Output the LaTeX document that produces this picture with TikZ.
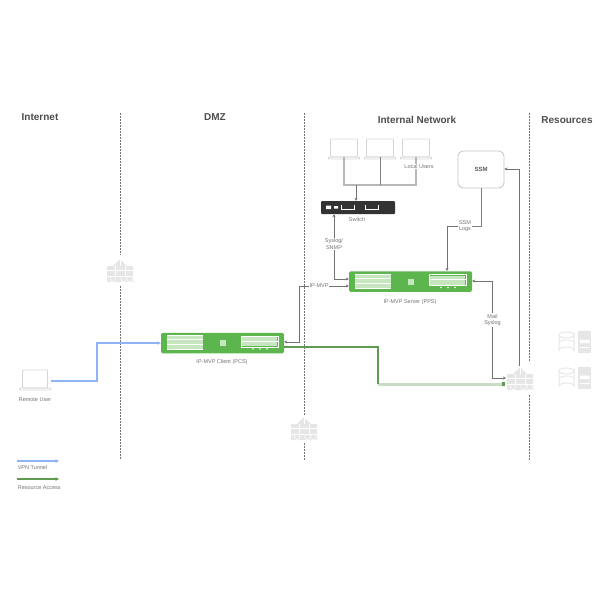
\documentclass[tikz,border=0pt]{standalone}
\usepackage{fontspec}
\setmainfont{Liberation Sans}
\usetikzlibrary{arrows.meta}
\definecolor{devgreen}{HTML}{5DB54E}
\definecolor{stripe}{HTML}{C6E6BF}
\definecolor{vpnblue}{HTML}{8FB4F5}
\definecolor{resgreen}{HTML}{5E9A50}
\definecolor{respale}{HTML}{C9DCC4}
\definecolor{iconline}{HTML}{E6E6E6}
\tikzset{
  x=1pt,y=-1pt,
  zone/.style={font=\bfseries\fontsize{10}{11}\selectfont,text=black!70,inner sep=0pt},
  tiny label/.style={font=\fontsize{5.5}{6.6}\selectfont,text=black!55,align=center,inner sep=0.6pt,fill=white},
  border/.style={draw=black!55,line width=0.8pt,dash pattern=on 2pt off 1pt},
  link/.style={draw=black!55,line width=0.8pt,-{Stealth[length=3pt,width=3pt]}},
  plain/.style={draw=black!50,line width=0.8pt},
  fat/.style={draw=black!28,line width=1.4pt},
  vpn/.style={draw=vpnblue,line width=1.1pt,-{Stealth[length=3.5pt,width=3.5pt]}},
  res/.style={draw=resgreen,line width=1.1pt,-{Stealth[length=3.5pt,width=3.5pt]}},
  device/.style={fill=devgreen,rounded corners=1.5pt,minimum width=123pt,minimum height=20.5pt,inner sep=0pt},
  screen/.style={draw=black!16,line width=0.9pt,fill=white,rounded corners=0.6pt,minimum width=27pt,minimum height=18pt,inner sep=0pt},
  pics/panel/.style={code={
    \fill[stripe] (6,-7.5) rectangle (42,7);
    \draw[white,line width=0.8pt] (6,-3.5) -- (42,-3.5) (6,1.5) -- (42,1.5) (6,6.5)--(42,6.5) (6,-7.5)--(42,-7.5);
    \fill[stripe] (58.5,-3) rectangle (64.5,3);
    \draw[white,line width=0.8pt] (80,-7) rectangle (117,4);
    \fill[stripe] (81,-6) rectangle (116,3);
    \draw[white,line width=0.8pt] (80,-2) -- (117,-2);
    \foreach \d in {92,99,106}{\fill[white] (\d,6) circle (0.8);}
  }},
  pics/group/.style={code={
    \fill[iconline] (0,-12) -- (7,-5) -- (13,-5) -- (13,11) -- (-13,11) -- (-13,-5) -- (-7,-5) -- cycle;
    \draw[white,line width=0.6pt] (-13,-1) -- (13,-1) (-13,5) -- (13,5) (-5,-5) -- (-5,5) (5,-5) -- (5,5) (0,-12) -- (0,-5);
    \foreach \p in {3.5,9.5}{\draw[white,fill=iconline,line width=0.5pt] (\p,8) circle (2.8);}
    \draw[white,fill=iconline,line width=0.5pt] (-7,8) circle (2.8);
  }},
  pics/store/.style={code={
    \draw[iconline,line width=1pt] (0,4) -- (0,19) arc[start angle=180,end angle=360,x radius=7.5,y radius=3] -- (15,4) arc[start angle=0,end angle=180,x radius=7.5,y radius=3] arc[start angle=180,end angle=360,x radius=7.5,y radius=3];
    \draw[iconline,line width=0.8pt] (0,12) arc[start angle=180,end angle=360,x radius=7.5,y radius=3];
    \fill[iconline] (19,0) rectangle (32,22);
    \fill[white] (20.5,8.5) rectangle (30.5,12) (20.5,16) rectangle (30.5,17);
  }},
  pics/base/.style={code={
    \draw[black!16,line width=0.9pt,rounded corners=0.5pt] (-15.5,0) rectangle (15.5,2);
  }},
}
\begin{document}
\begin{tikzpicture}
\useasboundingbox (0,0) rectangle (600,600);
% zone headings
\node[zone] (zInternet) at (40,117) {Internet};
\node[zone] (zDMZ) at (215,117) {DMZ};
\node[zone] (zInternal) at (417,120) {Internal Network};
\node[zone] (zResources) at (567,120) {Resources};
% zone borders
\draw[border] (120.5,113) -- (120.5,255) (120.5,286) -- (120.5,460);
\draw[border] (304,113) -- (304,415) (304,443) -- (304,460);
\draw[border] (529,113) -- (529,362) (529,395) -- (529,460);
% group icons
\pic at (120,271) {group};
\pic at (304,429) {group};
\pic (gateIcon) at (520,379) {group};
\coordinate (gateTop) at (519,366);
\coordinate (gateMail) at (506,378);
\coordinate (gateRes) at (505,384);
% storage
\pic at (559,331) {store};
\pic at (559,367) {store};
% laptops
\node[screen] (lap1) at (344,148) {};
\node[screen] (lap2) at (380,148) {};
\node[screen] (lap3) at (416,148) {};
\node[screen,minimum width=25pt,minimum height=18pt] (lapR) at (35,379) {};
\pic at (344,157) {base};
\pic at (380,157) {base};
\pic at (416,157) {base};
\pic at (35,388) {base};
\node[tiny label,fill=none] (lblRemote) at (35,399.5) {Remote User};
% switch
\node[fill=black!80,rounded corners=1pt,minimum width=74pt,minimum height=13pt,inner sep=0pt] (switch) at (358,207.5) {};
\fill[white] (326,205.5) rectangle (331,209) (334,206) rectangle (338,208.5);
\draw[white,line width=0.7pt] (341,205) -- (341,209.5) -- (354,209.5) -- (354,205);
\draw[white,line width=0.7pt] (365,205) -- (365,209.5) -- (378,209.5) -- (378,205);
\node[tiny label,fill=none] (lblSwitch) at (357,220) {Switch};
% devices
\node[device] (client) at (222.5,343) {};
\pic at (161,343) {panel};
\node[device] (server) at (410.5,281.5) {};
\pic at (349,281.5) {panel};
\node[tiny label,fill=none] (lblClient) at (222,362) {IP-MVP Client (PCS)};
\node[tiny label,fill=none] (lblServer) at (410,302) {IP-MVP Server (PPS)};
% SSM box
\node[draw=black!22,line width=0.9pt,rounded corners=5pt,minimum width=46pt,minimum height=37pt,inner sep=0pt,font=\bfseries\fontsize{6}{7}\selectfont,text=black!65] (siem) at (481,169.5) {SSM};
% connectors
\coordinate (j1) at (356,185);
\draw[fat] (lap1.south) -- (344,185) -- (416,185) -- (lap3.south);
\draw[plain] (lap2.south) -- (380,185);
\draw[link] (j1) -- (switch.north -| j1);
\node[tiny label] (lblLocal) at (419,166.5) {Local Users};
% syslog
\node[tiny label] (lblSnmp) at (334,244) {Syslog/\\SNMP};
\draw[link] (lblSnmp.north) -- (lblSnmp.north |- switch.south);
\draw[link] (lblSnmp.south) -- (334,279) -- (server.west |- 0,279);
% IP-MVP
\node[tiny label] (lblMvp) at (319,286) {IP-MVP};
\draw[link] (lblMvp.east) -- (server.west |- lblMvp);
\draw[link] (lblMvp.west) -- (299,286) -- (299,342) -- (client.east |- 0,342);
% SSM
\node[tiny label] (lblSsm) at (465,226) {SSM\\Logs};
\draw[plain] (siem.south) -- (siem.south |- lblSsm.east) -- (lblSsm.east);
\draw[link] (lblSsm.west) -- (447,226) -- (447,271);
% mail
\node[tiny label] (lblMail) at (492.5,320) {Mail\\Syslog};
\draw[link] (lblMail.north) -- (492.5,281) -- (server.east |- 0,281);
\draw[link] (lblMail.south) -- (492.5,378) -- (gateMail);
% gate to SSM
\draw[link,line width=1pt] (gateTop) -- (519,169) -- (siem.east |- 0,169);
% VPN
\draw[vpn] (lapR.east |- 0,381) ++(3,0) -- (97,381) -- (97,343) -- (client.west);
% resource access
\draw[draw=respale,line width=3pt] (378,384) -- (gateRes);
\draw[draw=resgreen,line width=1.1pt] (client.east |- 0,347) -- (378,347) -- (378,384);
\fill[resgreen] (gateRes) ++(-3,-2.2) rectangle ++(3,4.4);
% legend
\coordinate (legA) at (17,461); \coordinate (legB) at (59,461);
\coordinate (legC) at (17,479); \coordinate (legD) at (59,479);
\draw[vpn] (legA) -- (legB);
\draw[res] (legC) -- (legD);
\node[tiny label,fill=none,anchor=west] (lblVpn) at (17,468) {VPN Tunnel};
\node[tiny label,fill=none,anchor=west] (lblRes) at (17,488) {Resource Access};
\end{tikzpicture}
\end{document}
